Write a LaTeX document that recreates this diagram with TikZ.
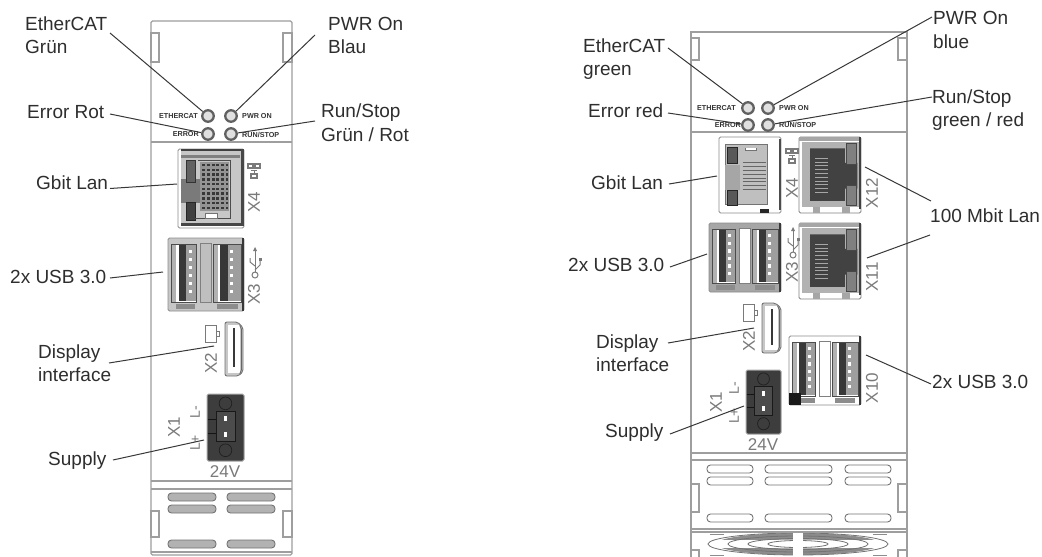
\documentclass[tikz,border=0pt]{standalone}
\usepackage{fontspec}
\setmainfont{Liberation Sans}
\tikzset{
  lbl/.style={anchor=base west,inner sep=0pt,text=black!82,font=\fontsize{19}{23}\selectfont},
  leader/.style={draw=black!78,line width=1pt},
  panel/.style={draw=black!38,line width=1.1pt},
  ledring/.style={circle,draw=black!62,line width=2.3pt,fill=black!12,minimum size=11.5pt,inner sep=0pt,outer sep=1.2pt},
  tinylbl/.style={inner sep=0pt,text=black!80,font=\fontsize{7.2}{8}\selectfont\bfseries},
  portmark/.style={inner sep=0pt,text=black!52,rotate=90,font=\fontsize{17}{18}\selectfont},
  voltmark/.style={inner sep=0pt,text=black!52,font=\fontsize{17}{18}\selectfont},
  pinmark/.style={inner sep=0pt,text=black!52,rotate=90,font=\fontsize{14}{15}\selectfont},
  slotshape/.style={rounded corners=3.5pt,draw=black!55,line width=.9pt},
  iconline/.style={draw=black!52,line width=1pt}
}
% x y w h : all ports drawn in a 0..100 unit box
\newcommand\gbitdark[4]{\begin{scope}[shift={(#1,#2)},xscale=#3/100,yscale=#4/100]
  \fill[rounded corners=1.5pt,white,draw=black!45,line width=.8pt] (0,0) rectangle (100,100);
  \fill[black!22] (5,0) rectangle (100,96);
  \fill[black!75] (5,0) rectangle (100,3);
  \fill[black!72] (95,0) rectangle (100,96);
  \fill[black!72] (5,94) rectangle (100,97);
  \fill[black!50] (5,8) rectangle (94,11);
  \fill[black!52] (5,38) rectangle (36,68);
  \fill[black!62,draw=black!80,line width=.6pt] (12,14) rectangle (26,42);
  \fill[black!75,draw=black!85,line width=.6pt] (12,68) rectangle (26,90);
  \fill[black!42] (34,16) rectangle (78,78);
  \foreach \yy in {19,25,31,37,43,49,55,61,67,73}{\foreach \xx in {37,44,51,58,65,72}{
    \fill[black!78] (\xx,\yy) rectangle +(4.5,3);}}
  \draw[black!70,line width=.7pt] (30,14) -- (80,14) -- (80,88) -- (26,88);
  \fill[white,draw=black!55,line width=.6pt] (42,82) rectangle (60,88);
\end{scope}}
\newcommand\gbitlight[4]{\begin{scope}[shift={(#1,#2)},xscale=#3/100,yscale=#4/100]
  \fill[rounded corners=1.5pt,white,draw=black!45,line width=.9pt] (0,0) rectangle (100,100);
  \fill[black!70] (96,2) rectangle (100,96);
  \fill[black!25,draw=black!55,line width=.6pt] (10,10) rectangle (78,88);
  \fill[black!35] (10,37) -- (34,37) -- (34,70) -- (10,70) -- cycle;
  \fill[black!65,draw=black!85,line width=.7pt] (13,14) rectangle (30,35);
  \fill[black!65,draw=black!85,line width=.7pt] (13,70) rectangle (30,90);
  \fill[white,draw=black!55,line width=.5pt] (42,14) -- (42,18) -- (60,18) -- (60,14);
  \foreach \yy in {34,39,44,49,54,59,64,69}{\draw[black!60,line width=.8pt] (38,\yy) -- (76,\yy);}
  \fill[black!85] (66,95) rectangle (80,100);
\end{scope}}
\newcommand\hundred[4]{\begin{scope}[shift={(#1,#2)},xscale=#3/100,yscale=#4/100]
  \fill[rounded corners=1.5pt,white,draw=black!50,line width=.9pt] (0,0) rectangle (100,100);
  \fill[black!35] (0,0) rectangle (100,5);
  \fill[black!75] (97,0) rectangle (100,95);
  \fill[black!30] (5,6) rectangle (96,92);
  \fill[black!74] (18,15) -- (74,15) -- (74,34) -- (94,34) -- (94,68) -- (74,68) -- (74,84) -- (18,84) -- cycle;
  \fill[black!50,draw=black!72,line width=.6pt] (76,8) rectangle (93,36);
  \fill[black!50,draw=black!72,line width=.6pt] (76,64) rectangle (93,90);
  \foreach \yy in {28,33,38,43,48,53,58,63,68,73}{\draw[black!35,line width=.8pt] (26,\yy) -- (46,\yy);}
  \fill[black!35] (22,92) rectangle (34,100);
  \fill[black!35] (70,92) rectangle (82,100);
\end{scope}}
\newcommand\usbjack[2]{\begin{scope}[shift={(#1,0)}]
  \fill[white] (0,9) rectangle (#2,88);
  \fill[black!30] (0,9) rectangle (6,88);
  \fill[black!78] (9,10) rectangle (19,86);
  \fill[black!38] (19,10) rectangle (#2,86);
  \foreach \yy in {16,27,38,49,60,71}{\fill[white] (22,\yy) rectangle +(4,5);}
  \draw[black!70,line width=.7pt] (0,9) rectangle (#2,88);
\end{scope}}
\newcommand\usbport[6]{\begin{scope}[shift={(#1,#2)},xscale=#3/100,yscale=#4/100]
  \fill[rounded corners=1.5pt,#5,draw=black!45,line width=.8pt] (0,0) rectangle (100,100);
  \fill[black!78] (97,0) rectangle (100,100);
  \usbjack{5}{32}
  \usbjack{60}{36}
  \fill[#6,draw=black!50,line width=.6pt] (42,7) rectangle (57,88);
  \fill[black!45] (10,90) rectangle (36,97);
  \fill[black!45] (64,90) rectangle (92,97);
\end{scope}}
\newcommand\hdmi[4]{\begin{scope}[shift={(#1,#2)},xscale=#3/100,yscale=#4/100]
  \fill[black!22,rounded corners=2pt,draw=black!55,line width=.9pt] (0,0) -- (70,0) -- (100,10) -- (100,92) -- (75,100) -- (0,100) -- cycle;
  \fill[white] (14,5) rectangle (82,94);
  \draw[black!78,line width=2pt] (52,12) -- (52,84);
  \draw[black!60,line width=.8pt] (82,6) -- (92,14) -- (92,88) -- (82,96);
\end{scope}}
\newcommand\supply[4]{\begin{scope}[shift={(#1,#2)},xscale=#3/100,yscale=#4/100]
  \fill[black!76,rounded corners=1.5pt] (0,0) rectangle (100,100);
  \draw[black!35,line width=1pt,rounded corners=1.5pt] (0,0) rectangle (100,100);
  \fill[black!70,draw=black!90,line width=.6pt] (24,26) -- (76,26) -- (76,70) -- (24,70) -- cycle;
  \draw[black!88,line width=.7pt] (50,14) ellipse [x radius=17,y radius=9.5];
  \draw[black!88,line width=.7pt] (50,84) ellipse [x radius=17,y radius=9.5];
  \fill[white] (45,33) rectangle (55,41);
  \fill[white] (45,56) rectangle (55,64);
  \draw[black!92,line width=.7pt] (2,38) -- (24,38);
  \draw[black!92,line width=.7pt] (2,58) -- (24,58);
\end{scope}}
\newcommand\slotw[4]{\draw[slotshape,fill=#4] (#1,#3-4) rectangle (#2,#3+4);}
\newcommand\neticon[2]{\begin{scope}[shift={(#1,#2)}]
  \draw[iconline,line width=1.6pt] (-6,-7) rectangle (-1,-3);
  \draw[iconline,line width=1.6pt] (1,-7) rectangle (6,-3);
  \draw[iconline,line width=1.6pt] (-3,3) rectangle (3,7);
  \draw[iconline] (-3,-1) -- (3,-1) (0,-1) -- (0,3);
\end{scope}}
\newcommand\usbicon[2]{\begin{scope}[shift={(#1,#2)}]
  \draw[iconline] (0,-13) -- (0,10);
  \draw[iconline] (0,13) circle [radius=3];
  \fill[black!52] (-2,-11) -- (0,-15) -- (2,-11) -- cycle;
  \draw[iconline] (0,4) -- (-5,0) -- (-5,-4);
  \draw[iconline] (0,8) -- (5,3) -- (5,-2);
  \fill[black!52] (3.5,-4) rectangle (6.5,-1);
\end{scope}}
\newcommand\dispicon[2]{\draw[iconline] (#1-6,#2-9) rectangle (#1+5,#2+8) (#1+5,#2-3) -- (#1+8,#2-3) -- (#1+8,#2+2) -- (#1+5,#2+2);}
\begin{document}
\begin{tikzpicture}[x=1pt,y=-1pt]
\useasboundingbox (0,0) rectangle (1042,557);
\fill[white] (0,0) rectangle (1042,557);

% ---------- left panel ----------
\draw[panel,rounded corners=1.5pt] (151,555) -- (151,21) -- (292,21) -- (292,555) -- cycle;
\draw[panel] (151,142) -- (292,142) (151,481) -- (292,481) (151,489) -- (292,489) (151,552) -- (292,552);
\foreach \a/\b in {33/62,511/537}{
  \draw[panel,fill=white] (151,\a) rectangle (159,\b);
  \draw[panel,fill=white] (283,\a) rectangle (292,\b);}
\node[ledring] (la) at (208,116) {};
\node[ledring] (lb) at (231,116) {};
\node[ledring] (lc) at (208,134) {};
\node[ledring] (ld) at (231,134) {};
\node[tinylbl,anchor=east] (lta) at (198,116) {ETHERCAT};
\node[tinylbl,anchor=west] (ltb) at (242,116) {PWR ON};
\node[tinylbl,anchor=east] (ltc) at (199,134.5) {ERROR};
\node[tinylbl,anchor=west] (ltd) at (242,134.5) {RUN/STOP};
\gbitdark{178}{149}{66}{79}
\usbport{168}{238}{76}{73}{black!22}{black!25}
\hdmi{225}{322}{18}{54}
\supply{207}{394}{37}{67}
\neticon{254}{171}
\usbicon{255}{262}
\dispicon{211}{334}
\node[portmark] (lx4) at (254,202) {X4};
\node[portmark] (lx3) at (254,294) {X3};
\node[portmark] (lx2) at (211,363) {X2};
\node[portmark] (lx1) at (174,427) {X1};
\node[pinmark] (lpm) at (195,412) {L-};
\node[pinmark] (lpp) at (195,443) {L+};
\node[voltmark] (lv) at (225,472) {24V};
\foreach \yy in {497,509,544}{
  \slotw{168}{216}{\yy}{black!30}
  \slotw{227}{275}{\yy}{black!30}}

\node[lbl] (t1) at (25,30) {EtherCAT};
\node[lbl] (t2) at (25,53) {Grün};
\node[lbl] (t3) at (328,30) {PWR On};
\node[lbl] (t4) at (328,53) {Blau};
\node[lbl] (t5) at (27,118) {Error Rot};
\node[lbl] (t6) at (321,117) {Run/Stop};
\node[lbl] (t7) at (321,141) {Grün / Rot};
\node[lbl] (t8) at (36,189) {Gbit Lan};
\node[lbl] (t9) at (10,283) {2x USB 3.0};
\node[lbl] (t10) at (38,358) {Display};
\node[lbl] (t11) at (38,381) {interface};
\node[lbl] (t12) at (48,465) {Supply};

\coordinate (a1) at (110,33);
\coordinate (a2) at (315,35);
\coordinate (a3) at (110,114);
\coordinate (a4) at (315,121);
\coordinate (a5) at (110,188.5);
\coordinate (a5e) at (177,184);
\coordinate (a6) at (110,278);
\coordinate (a6e) at (163,272);
\coordinate (a7) at (109,363);
\coordinate (a7e) at (214,346);
\coordinate (a8) at (113,460);
\coordinate (a8e) at (204,440);
\draw[leader] (a1) -- (la);
\draw[leader] (a2) -- (lb);
\draw[leader] (a3) -- (lc);
\draw[leader] (a4) -- (ld);
\draw[leader] (a5) -- (a5e);
\draw[leader] (a6) -- (a6e);
\draw[leader] (a7) -- (a7e);
\draw[leader] (a8) -- (a8e);

% ---------- right panel ----------
\begin{scope}
\clip (680,0) rectangle (915,557);
\draw[panel] (691,560) -- (691,32) -- (907,32) -- (907,560);
\draw[panel] (691,132) -- (907,132) (691,453) -- (907,453) (691,460) -- (907,460) (691,529) -- (907,529) (691,532) -- (907,532);
\foreach \a/\b in {38/60,484/512,550/565}{
  \draw[panel,fill=white] (691,\a) rectangle (699,\b);
  \draw[panel,fill=white] (898,\a) rectangle (907,\b);}
\end{scope}
\node[ledring] (ra) at (748,108) {};
\node[ledring] (rb) at (768,108) {};
\node[ledring] (rc) at (748,125) {};
\node[ledring] (rd) at (768,125) {};
\node[tinylbl,anchor=east] (rta) at (736,108) {ETHERCAT};
\node[tinylbl,anchor=west] (rtb) at (779,108) {PWR ON};
\node[tinylbl,anchor=east] (rtc) at (741,125) {ERROR};
\node[tinylbl,anchor=west] (rtd) at (779,125) {RUN/STOP};
\gbitlight{719}{137}{62}{76}
\hundred{799}{137}{62}{76}
\usbport{709}{223}{72}{69}{black!35}{white}
\hundred{799}{223}{62}{76}
\hdmi{762}{303}{19}{50}
\usbport{789}{336}{72}{69}{white}{white}
\fill[black!90] (789,393) -- (801,393) -- (801,405) -- (789,405) -- cycle;
\supply{746}{370}{35}{64}
\neticon{792}{156}
\usbicon{793}{242}
\dispicon{749}{313}
\node[portmark] (rx4) at (792,188) {X4};
\node[portmark] (rx3) at (792,272) {X3};
\node[portmark] (rx12) at (872,193) {X12};
\node[portmark] (rx11) at (872,277) {X11};
\node[portmark] (rx2) at (749,341) {X2};
\node[portmark] (rx10) at (872,388) {X10};
\node[portmark] (rx1) at (716,402) {X1};
\node[pinmark] (rpm) at (734,388) {L-};
\node[pinmark] (rpp) at (734,416) {L+};
\node[voltmark] (rv) at (763,445) {24V};
\foreach \yy in {469,481,518}{
  \slotw{707}{753}{\yy}{white}
  \slotw{765}{832}{\yy}{white}
  \slotw{845}{891}{\yy}{white}}
% fan
\begin{scope}
\clip (691,533) rectangle (907,557);
\fill[black!45,even odd rule] (798,544) ellipse [x radius=82,y radius=11] (798,544) ellipse [x radius=60,y radius=4.5];
\fill[white] (700,540) rectangle (896,548);
\foreach \rx/\ry in {90/11,70/8,50/5.5,30/3.5}{
  \draw[black!55,line width=.8pt] (798,544) ellipse [x radius=\rx,y radius=\ry];}
\fill[white] (793,530) rectangle (803,557);
\draw[black!45,line width=1.2pt] (710,534.5) -- (724,534.5) (873,534.5) -- (887,534.5) (710,555.5) -- (724,555.5) (873,555.5) -- (887,555.5);
\end{scope}

\node[lbl] (s1) at (583,52) {EtherCAT};
\node[lbl] (s2) at (583,75) {green};
\node[lbl] (s3) at (933,24) {PWR On};
\node[lbl] (s4) at (933,48) {blue};
\node[lbl] (s5) at (588,117) {Error red};
\node[lbl] (s6) at (932,103) {Run/Stop};
\node[lbl] (s7) at (932,126) {green / red};
\node[lbl] (s8) at (591,189) {Gbit Lan};
\node[lbl] (s9) at (930,222) {100 Mbit Lan};
\node[lbl] (s10) at (568,271) {2x USB 3.0};
\node[lbl] (s11) at (596,348) {Display};
\node[lbl] (s12) at (596,371) {interface};
\node[lbl] (s13) at (932,388) {2x USB 3.0};
\node[lbl] (s14) at (605,437) {Supply};

\coordinate (b1) at (668,48);
\coordinate (b2) at (932,17);
\coordinate (b3) at (668,113);
\coordinate (b4) at (932,97);
\coordinate (b5) at (669,184);
\coordinate (b5e) at (717,176);
\coordinate (b6) at (670,267);
\coordinate (b6e) at (707,254);
\coordinate (b7) at (931,201);
\coordinate (b7e) at (865,167);
\coordinate (b8) at (930,235);
\coordinate (b8e) at (867,258);
\coordinate (b9) at (668,343);
\coordinate (b9e) at (754,328);
\coordinate (b10) at (670,434);
\coordinate (b10e) at (744,406);
\coordinate (b11) at (931,384);
\coordinate (b11e) at (866,355);
\draw[leader] (b1) -- (ra);
\draw[leader] (b2) -- (rb);
\draw[leader] (b3) -- (rc);
\draw[leader] (b4) -- (rd);
\draw[leader] (b5) -- (b5e);
\draw[leader] (b6) -- (b6e);
\draw[leader] (b7) -- (b7e);
\draw[leader] (b8) -- (b8e);
\draw[leader] (b9) -- (b9e);
\draw[leader] (b10) -- (b10e);
\draw[leader] (b11) -- (b11e);
\end{tikzpicture}
\end{document}
